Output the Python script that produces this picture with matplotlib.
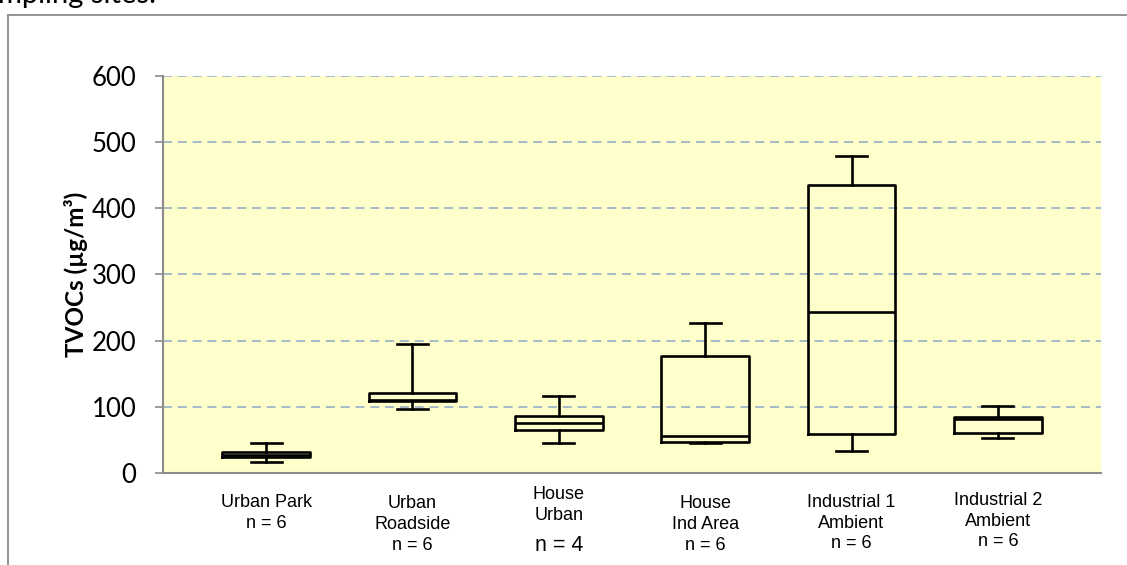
import matplotlib
matplotlib.use("Agg")
import matplotlib.pyplot as plt
from matplotlib.lines import Line2D

# TVOC concentrations per site (µg/m³): whisker low, Q1, median, Q3, whisker high
sites = ['Urban Park\nn = 6', 'Urban\nRoadside\nn = 6', 'House\nUrban\nn = 4',
         'House\nInd Area\nn = 6', 'Industrial 1\nAmbient\nn = 6', 'Industrial 2\nAmbient\nn = 6']
whis_lo = [16, 96, 45, 45, 33, 53]
q1 = [24, 109, 65, 47, 59, 60.5]
median = [27.5, 111, 75, 56, 243, 82]
q3 = [31.5, 121, 86, 177, 436, 85]
whis_hi = [46, 195, 117, 226, 479, 102]

yticks = [0, 100, 200, 300, 400, 500, 600]

stats = []
for i in range(len(sites)):
    stats.append({'whislo': whis_lo[i], 'q1': q1[i], 'med': median[i],
                  'q3': q3[i], 'whishi': whis_hi[i], 'fliers': []})

fig = plt.figure(figsize=(11.27, 5.65), dpi=100)
ax = fig.add_axes([163 / 1127, 92 / 565, 938 / 1127, 397 / 565])
ax.set_facecolor('#ffffcc')

lw = 1.9
ax.bxp(stats, positions=range(len(sites)), widths=0.6, showfliers=False,
       capwidths=0.21,
       boxprops=dict(color='black', linewidth=lw),
       whiskerprops=dict(color='black', linewidth=lw),
       capprops=dict(color='black', linewidth=lw),
       medianprops=dict(color='black', linewidth=lw))

ax.set_xlim(-0.705, 5.705)
ax.set_ylim(0, 600)
ax.set_yticks(yticks)
ax.set_yticklabels([str(v) for v in yticks], fontfamily='Lato', fontsize=18.5)
ax.yaxis.grid(True, linestyle=(0, (5, 3.2)), color='#9fb5c8', linewidth=1.3)
ax.set_axisbelow(True)
ax.set_xticks([])

for s in ['top', 'right']:
    ax.spines[s].set_visible(False)
for s in ['left', 'bottom']:
    ax.spines[s].set_color('#8c8c8c')
    ax.spines[s].set_linewidth(1.5)
ax.tick_params(axis='y', direction='out', length=6, width=1.2, color='#8c8c8c', pad=13)

ax.set_ylabel('TVOCs (µg/m³)', fontfamily='Lato', fontweight='bold', fontsize=17.5, labelpad=3)

# category labels under each box
trans = ax.get_xaxis_transform()
label_top = [-0.052, -0.056, -0.034, -0.056, -0.052, -0.047]
for i, lab in enumerate(sites):
    lines = lab.split('\n')
    if lines[-1] == 'n = 4':
        ax.text(i, label_top[i], '\n'.join(lines[:-1]), transform=trans, ha='center', va='top',
                fontfamily='Liberation Sans', fontsize=13, linespacing=1.3)
        ax.text(i, -0.155, lines[-1], transform=trans, ha='center', va='top',
                fontfamily='Liberation Sans', fontsize=15.5)
    else:
        ax.text(i, label_top[i], lab, transform=trans, ha='center', va='top',
                fontfamily='Liberation Sans', fontsize=13, linespacing=1.3)

# surrounding frame
fig.add_artist(Line2D([8 / 1127, 8 / 1127], [0, 1 - 15 / 565], color='#8c8c8c', linewidth=1.3,
                      transform=fig.transFigure))
fig.add_artist(Line2D([8 / 1127, 1], [1 - 15 / 565, 1 - 15 / 565], color='#8c8c8c', linewidth=1.3,
                      transform=fig.transFigure))

# tail of the caption text above
fig.text(-0.002, 1 - 3.5 / 565, 'mpling sites.', fontfamily='Lato', fontsize=21, va='baseline', ha='left')

fig.savefig('out.png', dpi=100)
